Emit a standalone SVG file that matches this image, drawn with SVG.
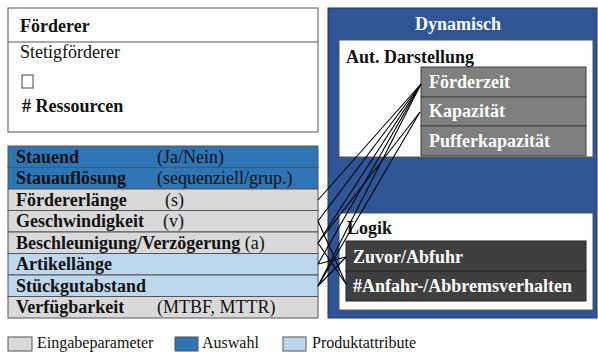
<svg xmlns="http://www.w3.org/2000/svg" width="598" height="352" viewBox="0 0 598 352">
  <style>
    text { font-family: "Liberation Serif", "DejaVu Serif", serif; font-size: 18px; fill: #111; }
    .b { font-weight: bold; }
    .w { fill: #ffffff; font-weight: bold; }
    .leg { font-size: 16px; }
    .box { stroke: #555; stroke-width: 1; }
    .sel { fill: #2E75B6; }
    .inp { fill: #D9D9D9; }
    .prod { fill: #BDD7EE; }
    .conn line { stroke: #000; stroke-width: 1.1; }
  </style>

  <rect width="598" height="352" fill="#ffffff"/>

  <!-- Förderer header box -->
  <g id="foerderer">
    <rect class="box" x="8" y="8" width="310" height="124" fill="#fff"/>
    <line x1="8" y1="42" x2="318" y2="42" stroke="#555"/>
    <text class="b" x="20" y="32">Förderer</text>
    <text x="20" y="58">Stetigförderer</text>
    <rect x="22" y="75" width="11" height="13" fill="#fff" stroke="#444"/>
    <text class="b" x="22" y="112"># Ressourcen</text>
  </g>

  <!-- Parameter table -->
  <g id="parameter">
    <rect class="box sel" x="8" y="146" width="310" height="21.5"/>
    <rect class="box sel" x="8" y="167.5" width="310" height="21.5"/>
    <rect class="box inp" x="8" y="189" width="310" height="21.5"/>
    <rect class="box inp" x="8" y="210.5" width="310" height="21.5"/>
    <rect class="box inp" x="8" y="232" width="310" height="21.5"/>
    <rect class="box prod" x="8" y="253.5" width="310" height="21.5"/>
    <rect class="box prod" x="8" y="275" width="310" height="21.5"/>
    <rect class="box inp" x="8" y="296.5" width="310" height="21.5"/>
    <text class="b" x="16" y="163">Stauend</text>
    <text x="157" y="163">(Ja/Nein)</text>
    <text class="b" x="16" y="184">Stauauflösung</text>
    <text x="157" y="184">(sequenziell/grup.)</text>
    <text class="b" x="16" y="206">Fördererlänge</text>
    <text x="165" y="206">(s)</text>
    <text class="b" x="16" y="227">Geschwindigkeit</text>
    <text x="163" y="227">(v)</text>
    <text class="b" x="16" y="249">Beschleunigung/Verzögerung <tspan font-weight="normal">(a)</tspan></text>
    <text class="b" x="16" y="270">Artikellänge</text>
    <text class="b" x="16" y="292">Stückgutabstand</text>
    <text class="b" x="16" y="313">Verfügbarkeit</text>
    <text x="157" y="313">(MTBF, MTTR)</text>
  </g>

  <!-- Dynamic container -->
  <g id="dynamisch">
    <rect x="328" y="8" width="269" height="310" fill="#2F5597" stroke="#1F3864"/>
    <text class="w" x="458" y="30" text-anchor="middle">Dynamisch</text>
  </g>

  <g id="darstellung">
    <rect class="box" x="339" y="40" width="254" height="117" fill="#fff"/>
    <text class="b" x="346" y="63">Aut. Darstellung</text>
    <rect x="421" y="67" width="165" height="30" fill="#7F7F7F" stroke="#404040"/>
    <rect x="421" y="97" width="165" height="29" fill="#7F7F7F" stroke="#404040"/>
    <rect x="421" y="126" width="165" height="30" fill="#7F7F7F" stroke="#404040"/>
    <text class="w" x="429" y="88">Förderzeit</text>
    <text class="w" x="429" y="117">Kapazität</text>
    <text class="w" x="429" y="147">Pufferkapazität</text>
  </g>

  <g id="logik">
    <rect class="box" x="339" y="213" width="254" height="97" fill="#fff"/>
    <text class="b" x="347" y="234">Logik</text>
    <rect x="346" y="241" width="240" height="30" fill="#3F3F3F" stroke="#262626"/>
    <rect x="346" y="271" width="240" height="30" fill="#3F3F3F" stroke="#262626"/>
    <text class="w" x="353" y="263">Zuvor/Abfuhr</text>
    <text class="w" x="353" y="292">#Anfahr-/Abbremsverhalten</text>
  </g>

  <!-- Connectors from parameters to dynamic elements -->
  <g id="connectors" class="conn">
    <line x1="318" y1="200" x2="421" y2="84"/>
    <line x1="318" y1="221" x2="421" y2="84"/>
    <line x1="318" y1="243" x2="421" y2="84"/>
    <line x1="318" y1="264" x2="421" y2="84"/>
    <line x1="318" y1="286" x2="421" y2="84"/>
    <line x1="318" y1="243" x2="420" y2="112"/>
    <line x1="318" y1="286" x2="420" y2="112"/>
    <line x1="318" y1="221" x2="346" y2="284"/>
    <line x1="318" y1="243" x2="346" y2="284"/>
    <line x1="318" y1="264" x2="346" y2="257"/>
    <line x1="318" y1="286" x2="346" y2="257"/>
  </g>

  <!-- Legend -->
  <g id="legende">
    <rect class="box inp" x="8" y="337" width="24" height="14"/>
    <text class="leg" x="37" y="348">Eingabeparameter</text>
    <rect class="box sel" x="175" y="337" width="23" height="14"/>
    <text class="leg" x="202" y="348">Auswahl</text>
    <rect class="box prod" x="283" y="337" width="23" height="14"/>
    <text class="leg" x="312" y="348">Produktattribute</text>
  </g>
</svg>
